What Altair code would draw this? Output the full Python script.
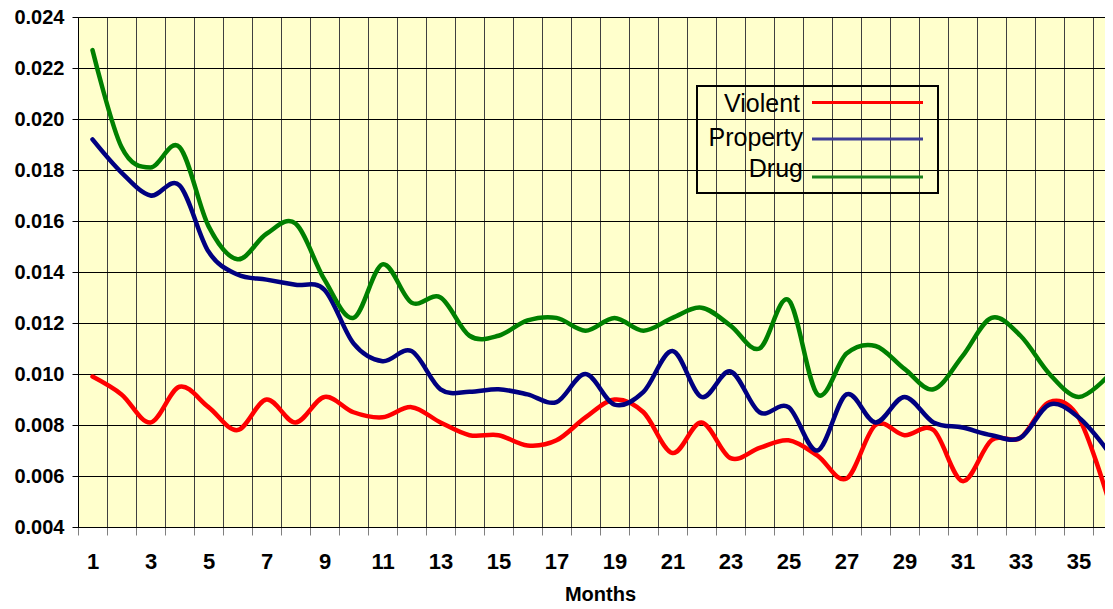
import altair as alt
import pandas as pd

months = list(range(1, 37))
violent = [0.0099, 0.0092, 0.0081, 0.0095, 0.0087, 0.0078, 0.0090, 0.0081, 0.0091, 0.0085,
           0.0083, 0.0087, 0.0081, 0.0076, 0.0076, 0.0072, 0.0074, 0.0083, 0.0090, 0.0085,
           0.0069, 0.0081, 0.0067, 0.0071, 0.0074, 0.0068, 0.0059, 0.0080, 0.0076, 0.0078,
           0.0058, 0.0074, 0.0075, 0.0089, 0.0083, 0.0052]
property_ = [0.0192, 0.0179, 0.0170, 0.0174, 0.0148, 0.0139, 0.0137, 0.0135, 0.0133, 0.0112,
             0.0105, 0.0109, 0.0094, 0.0093, 0.0094, 0.0092, 0.0089, 0.0100, 0.0088, 0.0093,
             0.0109, 0.0091, 0.0101, 0.0085, 0.0087, 0.0070, 0.0092, 0.0081, 0.0091, 0.0081,
             0.0079, 0.0076, 0.0075, 0.0088, 0.0083, 0.0070]
drug = [0.0227, 0.0189, 0.0181, 0.0189, 0.0158, 0.0145, 0.0155, 0.0159, 0.0137, 0.0122,
        0.0143, 0.0128, 0.0130, 0.0115, 0.0115, 0.0121, 0.0122, 0.0117, 0.0122, 0.0117,
        0.0122, 0.0126, 0.0119, 0.0110, 0.0129, 0.0092, 0.0108, 0.0111, 0.0102, 0.0094,
        0.0107, 0.0122, 0.0115, 0.0100, 0.0091, 0.0099]
series = ["Violent", "Property", "Drug"]
colors = ["#FF0000", "#000080", "#008000"]
legend_colors = ["#FF0000", "#3C3C96", "#1A841A"]
y_ticks = [0.004, 0.006, 0.008, 0.010, 0.012, 0.014, 0.016, 0.018, 0.020, 0.022, 0.024]
# category boundaries (gridlines / ticks sit between months)
x_bounds = [m - 0.5 for m in months]

rows = []
for name, vals in zip(series, [violent, property_, drug]):
    for m, v in zip(months, vals):
        rows.append({"Month": m, "Rate": v, "Series": name})
df = pd.DataFrame(rows)

FONT = "Liberation Sans"
W = 1027          # visible plot width (the original is cropped at the right)
STEP = 29.0       # width of one month band in pixels
x_max = 0.5 + W / STEP

x = alt.X(
    "Month:Q", title="Months",
    scale=alt.Scale(domain=[0.5, x_max], nice=False, zero=False),
    axis=alt.Axis(
        values=x_bounds,
        labelExpr="(datum.value + 0.5) % 2 == 1 ? format(datum.value + 0.5, 'd') : ''",
        labelOffset=STEP / 2, labelAngle=0, labelOverlap=False, labelFlush=False,
        labelFont=FONT, labelFontSize=22, labelFontWeight="bold", labelColor="black",
        labelPadding=16, tickSize=8, tickColor="#808080", domainColor="black",
        grid=True, gridColor="#404040", gridWidth=1,
        titleFont=FONT, titleFontSize=20, titleFontWeight="bold", titleColor="black",
        titleX=522, titleY=73, titleBaseline="alphabetic", titleAlign="center",
    ),
)
y = alt.Y(
    "Rate:Q", title=None,
    scale=alt.Scale(domain=[0.004, 0.024], nice=False, zero=False),
    axis=alt.Axis(
        values=y_ticks, format=".3f",
        labelFont=FONT, labelFontSize=20, labelFontWeight="bold", labelColor="black",
        labelPadding=8, tickSize=6, tickColor="black", domainColor="black",
        grid=True, gridColor="black", gridWidth=1,
    ),
)

lines = alt.Chart(df).mark_line(
    interpolate="cardinal", strokeWidth=4.5, strokeCap="round", strokeJoin="round"
).encode(
    x=x, y=y,
    color=alt.Color("Series:N", scale=alt.Scale(domain=series, range=colors), legend=None),
)

one = alt.Data(values=[{"k": 0}])
legend_box = alt.Chart(one).mark_rect(fillOpacity=0, stroke="black", strokeWidth=2).encode(
    x=alt.value(619), x2=alt.value(860), y=alt.value(69), y2=alt.value(176)
)
legend_layers = [legend_box]
text_y = [95, 128.5, 159.5]
line_y = [85.5, 122, 160]
text_x = [722, 725, 725]
for name, c, ty, ly, tx in zip(series, legend_colors, text_y, line_y, text_x):
    legend_layers.append(
        alt.Chart(one).mark_text(
            align="right", baseline="alphabetic", font=FONT, fontSize=25, color="black"
        ).encode(x=alt.value(tx), y=alt.value(ty), text=alt.value(name))
    )
    legend_layers.append(
        alt.Chart(one).mark_rule(color=c, strokeWidth=3).encode(
            x=alt.value(734), x2=alt.value(845), y=alt.value(ly)
        )
    )

chart = alt.layer(lines, *legend_layers).properties(
    width=W, height=510,
    padding={"left": 70, "top": 9, "right": 0, "bottom": 74},
    autosize=alt.AutoSizeParams(type="none"),
    background="white",
).configure_view(fill="#FFFFCC", stroke="#808080", strokeWidth=1)

chart.save("out.html", embed_options={"renderer": "svg", "actions": False})
